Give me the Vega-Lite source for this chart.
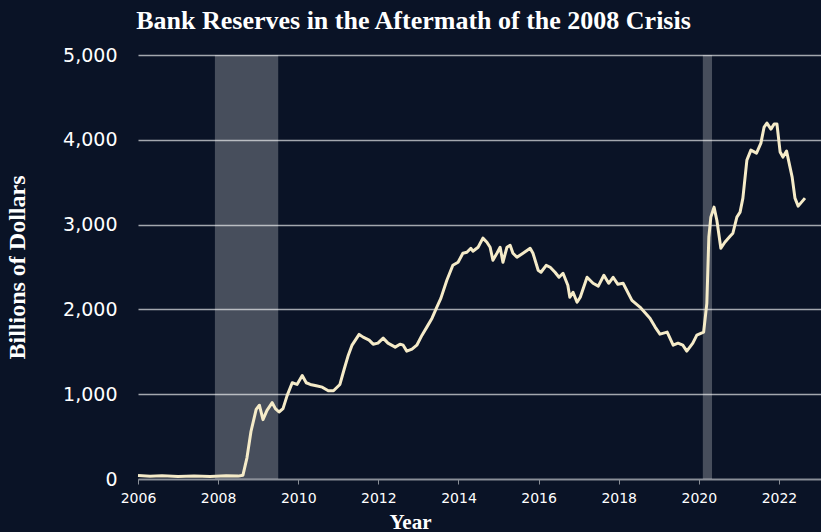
{
  "$schema": "https://vega.github.io/schema/vega-lite/v6.json",
  "width": 683,
  "height": 424,
  "autosize": "none",
  "padding": {"left": 138, "top": 55, "right": 0, "bottom": 53},
  "background": "#0a1326",
  "title": {
    "text": "Bank Reserves in the Aftermath of the 2008 Crisis",
    "font": "Liberation Serif",
    "fontSize": 26,
    "fontWeight": "bold",
    "color": "#ffffff",
    "anchor": "middle",
    "offset": 12,
    "dx": -66
  },
  "config": {
    "view": {"stroke": null},
    "axis": {
      "labelColor": "#ffffff",
      "labelFont": "DejaVu Sans",
      "labelFlush": false,
      "titleColor": "#ffffff",
      "titleFont": "Liberation Serif",
      "titleFontWeight": "bold",
      "gridColor": "#a3a7ae",
      "gridWidth": 1.5,
      "domainColor": "#8a8f98",
      "tickColor": "#8a8f98"
    }
  },
  "datasets": {
    "bands": [
      {"start": 2007.92, "end": 2009.5},
      {"start": 2020.1, "end": 2020.33}
    ],
    "reserves": [
      {"year": 2006.0, "value": 40},
      {"year": 2006.3, "value": 32},
      {"year": 2006.6, "value": 38},
      {"year": 2007.0, "value": 30},
      {"year": 2007.4, "value": 36},
      {"year": 2007.8, "value": 30},
      {"year": 2008.2, "value": 38},
      {"year": 2008.5, "value": 34},
      {"year": 2008.62, "value": 45},
      {"year": 2008.72, "value": 250},
      {"year": 2008.82, "value": 560},
      {"year": 2008.95, "value": 820},
      {"year": 2009.03, "value": 870},
      {"year": 2009.12, "value": 700},
      {"year": 2009.22, "value": 810},
      {"year": 2009.35, "value": 900},
      {"year": 2009.43, "value": 830},
      {"year": 2009.52, "value": 790},
      {"year": 2009.62, "value": 830},
      {"year": 2009.72, "value": 980},
      {"year": 2009.85, "value": 1135},
      {"year": 2009.97, "value": 1115},
      {"year": 2010.1, "value": 1220},
      {"year": 2010.2, "value": 1135},
      {"year": 2010.3, "value": 1115},
      {"year": 2010.45, "value": 1100},
      {"year": 2010.6, "value": 1083},
      {"year": 2010.75, "value": 1040},
      {"year": 2010.88, "value": 1040},
      {"year": 2011.04, "value": 1115},
      {"year": 2011.15, "value": 1300},
      {"year": 2011.25, "value": 1460},
      {"year": 2011.34, "value": 1575},
      {"year": 2011.52, "value": 1705},
      {"year": 2011.62, "value": 1673},
      {"year": 2011.77, "value": 1638},
      {"year": 2011.87, "value": 1590},
      {"year": 2011.99, "value": 1602},
      {"year": 2012.12, "value": 1661},
      {"year": 2012.24, "value": 1602},
      {"year": 2012.42, "value": 1555},
      {"year": 2012.54, "value": 1590},
      {"year": 2012.62, "value": 1578},
      {"year": 2012.71, "value": 1508},
      {"year": 2012.84, "value": 1531},
      {"year": 2012.96, "value": 1578},
      {"year": 2013.09, "value": 1696},
      {"year": 2013.21, "value": 1791},
      {"year": 2013.34, "value": 1897},
      {"year": 2013.46, "value": 2027},
      {"year": 2013.56, "value": 2130},
      {"year": 2013.71, "value": 2343},
      {"year": 2013.86, "value": 2520},
      {"year": 2013.99, "value": 2556},
      {"year": 2014.11, "value": 2662},
      {"year": 2014.21, "value": 2674},
      {"year": 2014.31, "value": 2721},
      {"year": 2014.36, "value": 2686},
      {"year": 2014.49, "value": 2733},
      {"year": 2014.61, "value": 2840},
      {"year": 2014.71, "value": 2792},
      {"year": 2014.79, "value": 2733},
      {"year": 2014.86, "value": 2580},
      {"year": 2014.96, "value": 2662},
      {"year": 2015.04, "value": 2733},
      {"year": 2015.11, "value": 2556},
      {"year": 2015.21, "value": 2733},
      {"year": 2015.29, "value": 2757},
      {"year": 2015.36, "value": 2662},
      {"year": 2015.46, "value": 2615},
      {"year": 2015.61, "value": 2662},
      {"year": 2015.79, "value": 2721},
      {"year": 2015.86, "value": 2662},
      {"year": 2015.99, "value": 2462},
      {"year": 2016.06, "value": 2438},
      {"year": 2016.19, "value": 2520},
      {"year": 2016.29, "value": 2497},
      {"year": 2016.41, "value": 2438},
      {"year": 2016.51, "value": 2379},
      {"year": 2016.61, "value": 2426},
      {"year": 2016.73, "value": 2285},
      {"year": 2016.78, "value": 2143},
      {"year": 2016.86, "value": 2202},
      {"year": 2016.96, "value": 2084},
      {"year": 2017.04, "value": 2143},
      {"year": 2017.21, "value": 2379},
      {"year": 2017.36, "value": 2308},
      {"year": 2017.49, "value": 2275},
      {"year": 2017.63, "value": 2403},
      {"year": 2017.75, "value": 2308},
      {"year": 2017.86, "value": 2379},
      {"year": 2017.98, "value": 2296},
      {"year": 2018.11, "value": 2308},
      {"year": 2018.33, "value": 2107},
      {"year": 2018.53, "value": 2027},
      {"year": 2018.78, "value": 1897},
      {"year": 2018.91, "value": 1791},
      {"year": 2019.03, "value": 1708},
      {"year": 2019.21, "value": 1732},
      {"year": 2019.36, "value": 1578},
      {"year": 2019.48, "value": 1602},
      {"year": 2019.6, "value": 1578},
      {"year": 2019.7, "value": 1508},
      {"year": 2019.85, "value": 1602},
      {"year": 2019.95, "value": 1696},
      {"year": 2020.12, "value": 1732},
      {"year": 2020.2, "value": 2072},
      {"year": 2020.25, "value": 2851},
      {"year": 2020.3, "value": 3088},
      {"year": 2020.38, "value": 3206},
      {"year": 2020.45, "value": 3052},
      {"year": 2020.55, "value": 2721},
      {"year": 2020.65, "value": 2792},
      {"year": 2020.78, "value": 2863},
      {"year": 2020.85, "value": 2898},
      {"year": 2020.95, "value": 3088},
      {"year": 2021.03, "value": 3147},
      {"year": 2021.1, "value": 3312},
      {"year": 2021.2, "value": 3760},
      {"year": 2021.3, "value": 3878},
      {"year": 2021.44, "value": 3843},
      {"year": 2021.55, "value": 3961},
      {"year": 2021.63, "value": 4150},
      {"year": 2021.7, "value": 4197},
      {"year": 2021.8, "value": 4126},
      {"year": 2021.88, "value": 4186},
      {"year": 2021.95, "value": 4186},
      {"year": 2022.03, "value": 3855},
      {"year": 2022.1, "value": 3796},
      {"year": 2022.19, "value": 3867},
      {"year": 2022.33, "value": 3560},
      {"year": 2022.4, "value": 3312},
      {"year": 2022.48, "value": 3218},
      {"year": 2022.65, "value": 3312}
    ]
  },
  "layer": [
    {
      "data": {"name": "bands"},
      "mark": {"type": "rect", "color": "#ffffff", "opacity": 0.25},
      "encoding": {
        "x": {"field": "start", "type": "quantitative", "scale": {"domain": [2006, 2023.05], "nice": false, "zero": false}},
        "x2": {"field": "end"}
      }
    },
    {
      "data": {"name": "reserves"},
      "mark": {"type": "line", "color": "#f5ebc8", "strokeWidth": 3, "strokeJoin": "round"},
      "encoding": {
        "x": {
          "field": "year",
          "type": "quantitative",
          "scale": {"domain": [2006, 2023.05], "nice": false, "zero": false},
          "axis": {
            "title": "Year",
            "titleFontSize": 21,
            "titleX": 272,
            "titleY": 49,
            "titleAlign": "center",
            "titleBaseline": "alphabetic",
            "values": [2006, 2008, 2010, 2012, 2014, 2016, 2018, 2020, 2022],
            "format": "d",
            "labelFontSize": 14,
            "labelPadding": 7,
            "tickSize": 5,
            "domainWidth": 1.5,
            "grid": false
          }
        },
        "y": {
          "field": "value",
          "type": "quantitative",
          "scale": {"domain": [0, 5000], "nice": false},
          "axis": {
            "title": "Billions of Dollars",
            "titleFontSize": 24,
            "titleAngle": -90,
            "titleX": -121,
            "titleY": 212,
            "titleAlign": "center",
            "titleBaseline": "middle",
            "values": [0, 1000, 2000, 3000, 4000, 5000],
            "format": ",.0f",
            "labelFontSize": 19,
            "labelPadding": 21,
            "ticks": false,
            "domain": false,
            "grid": true
          }
        }
      }
    }
  ]
}
